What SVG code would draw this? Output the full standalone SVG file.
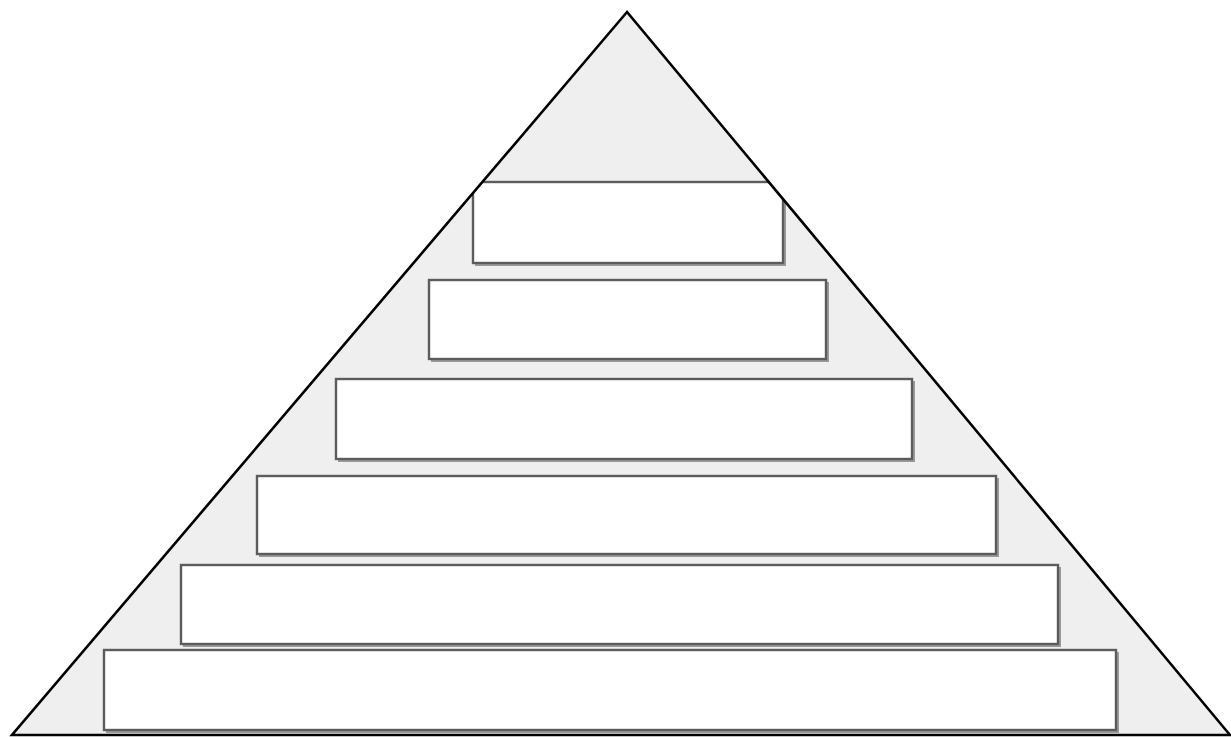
<svg xmlns="http://www.w3.org/2000/svg" width="1231" height="737" viewBox="0 0 1231 737">
<style>
.tri{fill:#efefef;stroke:none}
.edge{fill:none;stroke:#000;stroke-width:2.6;stroke-linejoin:miter}
.lvl{fill:#fff;stroke:#5c5c5c;stroke-width:2.4}
.sh{fill:none;stroke:#9a9a9a;stroke-width:2}
</style>
<defs>
<clipPath id="clipTri"><polygon points="627,12 12,735 1230,735"/></clipPath>
</defs>
<rect width="1231" height="737" fill="#fff"/>
<g id="pyramid">
<polygon class="tri" points="627,12 12,735 1230,735"/>
</g>
<g clip-path="url(#clipTri)">
<g id="level1"><polyline class="sh" points="475,265 785,265 785,184"/><rect class="lvl" x="473" y="182" width="310" height="81"/></g>
<g id="level2"><polyline class="sh" points="431,361 828,361 828,282"/><rect class="lvl" x="429" y="280" width="397" height="79"/></g>
<g id="level3"><polyline class="sh" points="338,461 914,461 914,381"/><rect class="lvl" x="336" y="379" width="576" height="80"/></g>
<g id="level4"><polyline class="sh" points="259,556 998,556 998,478"/><rect class="lvl" x="257" y="476" width="739" height="78"/></g>
<g id="level5"><polyline class="sh" points="183,646 1060,646 1060,567"/><rect class="lvl" x="181" y="565" width="877" height="79"/></g>
<g id="level6"><polyline class="sh" points="106,732 1118,732 1118,652"/><rect class="lvl" x="104" y="650" width="1012" height="80"/></g>
</g>
<g id="outline">
<polygon class="edge" points="627,12 12,735 1230,735"/>
</g>
<g id="connectors"></g>
</svg>
